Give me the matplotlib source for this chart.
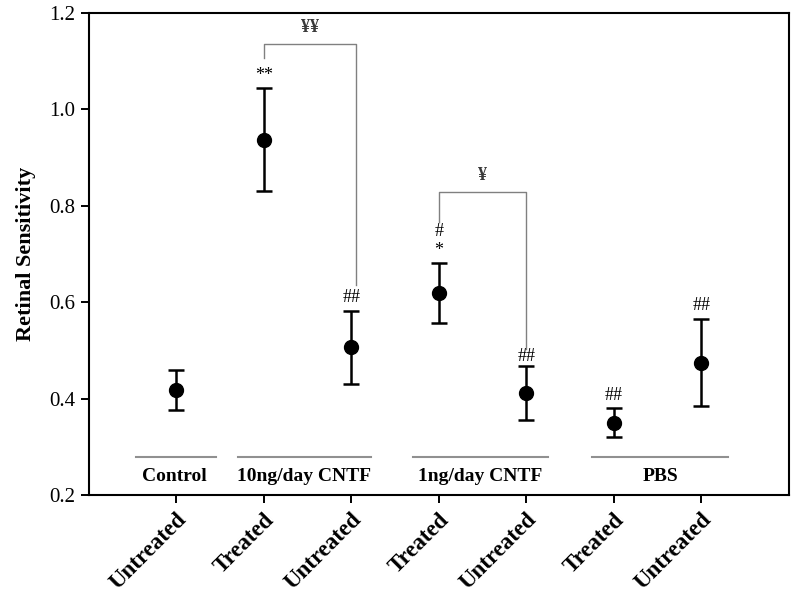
import matplotlib
matplotlib.use('Agg')
import matplotlib.pyplot as plt

# data
tick_labels = ['Untreated', 'Treated', 'Untreated', 'Treated', 'Untreated', 'Treated', 'Untreated']
means = [0.418, 0.937, 0.507, 0.620, 0.411, 0.350, 0.475]
errors = [0.041, 0.107, 0.076, 0.062, 0.056, 0.030, 0.090]

# significance marks above each point: (x, y, text)
marks = [(2, 1.071, '**'), (3, 0.609, '##'), (4, 0.746, '#'), (4, 0.708, '*'),
         (5, 0.488, '##'), (6, 0.407, '##'), (7, 0.594, '##')]

# brackets: (x left, x right, y top, y left end, y right end, label)
brackets = [(2, 3.05, 1.136, 1.107, 0.636, '¥¥'),
            (4, 5.0, 0.829, 0.767, 0.503, '¥')]

# group lines and names
groups = ['Control', '10ng/day CNTF', '1ng/day CNTF', 'PBS']
group_spans = [(0.54, 1.45), (1.70, 3.22), (3.70, 5.25), (5.75, 7.30)]
group_centres = [0.98, 2.46, 4.47, 6.53]

plt.rcParams['font.family'] = ['Liberation Serif', 'DejaVu Serif']

fig = plt.figure(figsize=(8, 5.93), dpi=100)
ax = fig.add_axes([0.111, 0.165, 0.875, 0.813])

x = list(range(1, len(means) + 1))
ax.errorbar(x, means, yerr=errors, fmt='o', color='black', ms=10,
            capsize=5.5, elinewidth=1.8, capthick=1.8)

for xm, ym, t in marks:
    ax.text(xm, ym, t, ha='center', va='center', fontsize=13)

for xl, xr, yt, yl, yr, t in brackets:
    ax.plot([xl, xl, xr, xr], [yl, yt, yt, yr], color='#808080', lw=1)
    ax.text((xl + xr) / 2, yt + 0.033, t, ha='center', va='center',
            fontsize=13, fontweight='bold', color='#3a3a3a')

for (a, b), c, g in zip(group_spans, group_centres, groups):
    ax.plot([a, b], [0.279, 0.279], color='#909090', lw=1.5)
    ax.text(c, 0.239, g, ha='center', va='center', fontsize=14, fontweight='bold')

ax.set_xlim(0, 8)
ax.set_ylim(0.2, 1.2)
ax.set_yticks([0.2, 0.4, 0.6, 0.8, 1.0, 1.2])
ax.set_xticks(x)
ax.set_xticklabels(tick_labels, rotation=45, ha='right', rotation_mode='anchor',
                   fontsize=16.5, fontweight='bold')
ax.tick_params(axis='y', labelsize=15, length=6, width=1.4, direction='out')
ax.tick_params(axis='x', length=6, width=1.4, direction='out', pad=4)
ax.set_ylabel('Retinal Sensitivity', fontsize=16, fontweight='bold', labelpad=10)
for s in ax.spines.values():
    s.set_linewidth(1.5)

fig.savefig('out.png', dpi=100)
